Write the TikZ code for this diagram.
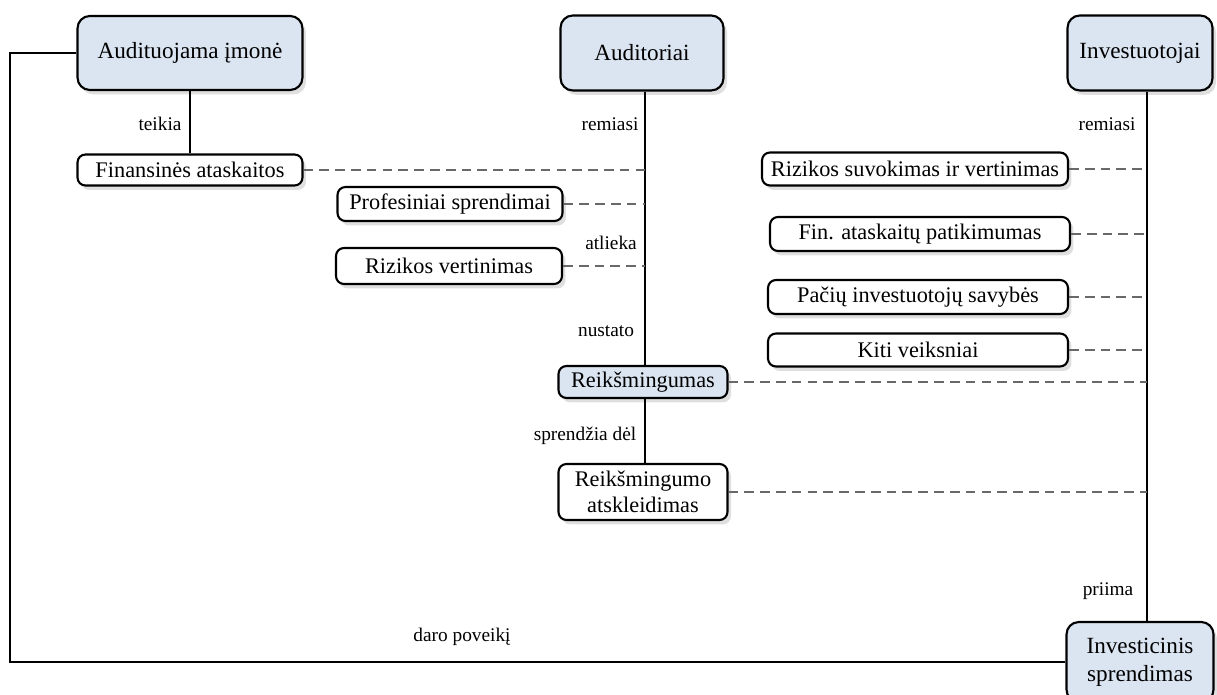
\documentclass[tikz,border=0pt]{standalone}
\usepackage{fontspec}
\setmainfont{Liberation Serif}
\usetikzlibrary{shadows}
\definecolor{boxblue}{RGB}{219,229,241}
\definecolor{dashgray}{RGB}{105,105,105}

\begin{document}
\begin{tikzpicture}[x=0.02cm,y=-0.02cm,
  headbox/.style={draw,line width=1.2pt,rounded corners=7pt,fill=boxblue,
    drop shadow={opacity=0.25,shadow xshift=2pt,shadow yshift=-2.5pt},
    font=\fontsize{13.2}{16}\selectfont,align=center,inner sep=0pt},
  itembox/.style={draw,line width=1.2pt,rounded corners=4.5pt,fill=white,
    drop shadow={opacity=0.25,shadow xshift=2pt,shadow yshift=-2.5pt},
    font=\fontsize{12.7}{15}\selectfont,align=center,inner sep=0pt},
  keybox/.style={itembox,fill=boxblue},
  link/.style={line width=0.7pt},
  dashlink/.style={line width=1.1pt,dashgray,dash pattern=on 5.5pt off 3.5pt},
  verb/.style={font=\fontsize{11}{13}\selectfont,inner sep=0pt}]
 \useasboundingbox (0,0) rectangle (1217,695);
 % pagrindiniai dalyviai
 \node[headbox,minimum width=4.5cm,minimum height=1.48cm] (imone) at (190,53) {Audituojama įmonė};
 \node[headbox,minimum width=3.26cm,minimum height=1.5cm] (auditoriai) at (642,53) {Auditoriai};
 \node[headbox,minimum width=2.9cm,minimum height=1.5cm] (investuotojai) at (1140,53) {Investuotojai};
 \node[headbox,minimum width=2.94cm,minimum height=1.6cm] (sprendimas) at (1140,662) {Investicinis\\sprendimas};
 % kairė ir vidurys
 \node[itembox,minimum width=4.5cm,minimum height=0.62cm] (ataskaitos) at (190,170) {Finansinės ataskaitos};
 \node[itembox,minimum width=4.5cm,minimum height=0.68cm] (profesiniai) at (450,204) {Profesiniai sprendimai};
 \node[itembox,minimum width=4.52cm,minimum height=0.72cm] (rizvert) at (449,266) {Rizikos vertinimas};
 \node[keybox,minimum width=3.38cm,minimum height=0.64cm] (reiksm) at (643,382) {Reikšmingumas};
 \node[itembox,minimum width=3.38cm,minimum height=1.12cm] (atskleid) at (643,492) {Reikšmingumo\\atskleidimas};
 % dešinė
 \node[itembox,minimum width=6.12cm,minimum height=0.66cm] (rizsuv) at (915,169) {Rizikos suvokimas ir vertinimas};
 \node[itembox,minimum width=6.0cm,minimum height=0.68cm] (patik) at (920,234) {Fin. ataskaitų patikimumas};
 \node[itembox,minimum width=6.0cm,minimum height=0.68cm] (savyb) at (918,297) {Pačių investuotojų savybės};
 \node[itembox,minimum width=6.0cm,minimum height=0.66cm] (kiti) at (918,350) {Kiti veiksniai};
 % ašys
 \coordinate (audx) at (645,0);
 \coordinate (invx) at (1147,0);
 \coordinate (leftx) at (10,0);
 % ištisinės linijos
 \draw[link] (imone) -- (ataskaitos);
 \draw[link] (auditoriai.south -| audx) -- (reiksm.north -| audx);
 \draw[link] (reiksm.south -| audx) -- (atskleid.north -| audx);
 \draw[link] (investuotojai.south -| invx) -- (sprendimas.north -| invx);
 \draw[link] (imone.west) -| (leftx |- sprendimas.west) -- (sprendimas.west);
 % punktyrai
 \draw[dashlink] (ataskaitos.east) -- (ataskaitos.east -| audx);
 \draw[dashlink] (profesiniai.east) -- (profesiniai.east -| audx);
 \draw[dashlink] (rizvert.east) -- (rizvert.east -| audx);
 \draw[dashlink] (rizsuv.east) -- (rizsuv.east -| invx);
 \draw[dashlink] (patik.east) -- (patik.east -| invx);
 \draw[dashlink] (savyb.east) -- (savyb.east -| invx);
 \draw[dashlink] (kiti.east) -- (kiti.east -| invx);
 \draw[dashlink] (reiksm.east) -- (reiksm.east -| invx);
 \draw[dashlink] (atskleid.east) -- (atskleid.east -| invx);
 % veiksmažodžiai
 \node[verb] (teikia) at (160,124) {teikia};
 \node[verb] (remaud) at (610,124) {remiasi};
 \node[verb] (reminv) at (1107,124) {remiasi};
 \node[verb] (atlieka) at (611,243) {atlieka};
 \node[verb] (nustato) at (606,331) {nustato};
 \node[verb] (sprendzia) at (585,436) {sprendžia\hspace{0.25em}dėl};
 \node[verb] (priima) at (1108,591) {priima};
 \node[verb] (poveiki) at (462,637) {daro poveikį};
\end{tikzpicture}
\end{document}
